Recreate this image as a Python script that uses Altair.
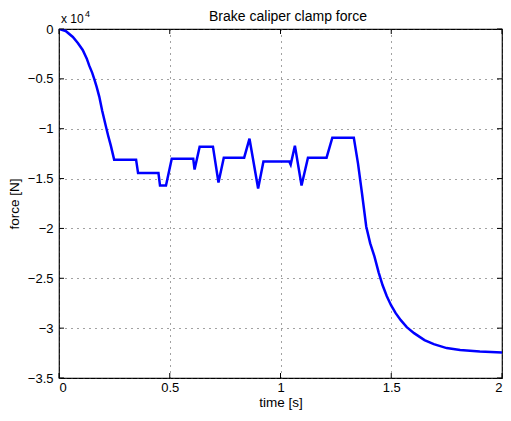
import altair as alt
import pandas as pd

# time [s]
t_vals = [0.0, 0.03, 0.0625, 0.085, 0.107, 0.125, 0.137, 0.15, 0.159, 0.17, 0.182, 0.195,
          0.211, 0.222, 0.234, 0.249,
          0.348, 0.357, 0.449, 0.456, 0.483, 0.509, 0.606, 0.612, 0.635, 0.695, 0.72,
          0.744, 0.836, 0.860, 0.899, 0.923, 1.040, 1.046, 1.065, 1.095, 1.124, 1.208,
          1.234, 1.331,
          1.35, 1.368, 1.387, 1.405, 1.424, 1.443, 1.461, 1.48, 1.499, 1.52, 1.543, 1.57,
          1.603, 1.65, 1.692, 1.75, 1.811, 1.9, 2.0]
# force [N]
f_vals = [0, -200, -800, -1400, -2100, -2950, -3700, -4400, -5000, -5800, -6800, -8200,
          -9700, -10700, -11700, -13100,
          -13100, -14450, -14450, -15700, -15700, -13000, -13000, -14100, -11800, -11800, -15400,
          -12900, -12900, -11000, -16000, -13300, -13300, -13600, -11700, -15700, -12900, -12900,
          -10900, -10900,
          -13500, -16500, -19800, -21500, -22800, -24400, -25700, -26800, -27700, -28500, -29200, -29900,
          -30500, -31200, -31600, -32000, -32200, -32350, -32450]

x_ticks = [0, 0.5, 1, 1.5, 2]
y_ticks = [0, -5000, -10000, -15000, -20000, -25000, -30000, -35000]

title_text = "Brake caliper clamp force"
x_title = "time [s]"
y_title = "force [N]"
exp_base = "x 10"
exp_pow = "4"

W, H = 443, 349
FONT = "Liberation Sans"

df = pd.DataFrame({"t": t_vals, "f": f_vals})
xt = pd.DataFrame({"t": x_ticks})
yt = pd.DataFrame({"f": y_ticks})

xs = alt.Scale(domain=[0, 2], nice=False, zero=False)
ys = alt.Scale(domain=[-35000, 0], nice=False, zero=False)

line = alt.Chart(df).mark_line(color="#0000ff", strokeWidth=2.5, clip=True).encode(
    x=alt.X("t:Q", scale=xs, title=x_title,
            axis=alt.Axis(values=x_ticks, labelExpr="format(datum.value, '~g')",
                          grid=True, ticks=False, domain=False,
                          labelPadding=3, titlePadding=1,
                          gridDash=[1, 5], gridColor="#444444", gridWidth=1)),
    y=alt.Y("f:Q", scale=ys, title=y_title,
            axis=alt.Axis(values=y_ticks, labelExpr="format(datum.value/10000, '~g')",
                          grid=True, ticks=False, domain=False,
                          labelPadding=6, titlePadding=6,
                          gridDash=[1, 5], gridColor="#444444", gridWidth=1)),
)

tick_len = 5
bt = alt.Chart(xt).mark_rule(color="black", strokeWidth=1).encode(
    x=alt.X("t:Q", scale=xs), y=alt.value(H), y2=alt.value(H - tick_len))
tt = alt.Chart(xt).mark_rule(color="black", strokeWidth=1).encode(
    x=alt.X("t:Q", scale=xs), y=alt.value(0), y2=alt.value(tick_len))
lt = alt.Chart(yt).mark_rule(color="black", strokeWidth=1).encode(
    y=alt.Y("f:Q", scale=ys), x=alt.value(0), x2=alt.value(tick_len))
rt = alt.Chart(yt).mark_rule(color="black", strokeWidth=1).encode(
    y=alt.Y("f:Q", scale=ys), x=alt.value(W), x2=alt.value(W - tick_len))

exp1 = alt.Chart(pd.DataFrame({"s": [exp_base]})).mark_text(
    font=FONT, fontSize=12, align="left", baseline="alphabetic", color="black").encode(
    text="s:N", x=alt.value(2), y=alt.value(-6))
exp2 = alt.Chart(pd.DataFrame({"s": [exp_pow]})).mark_text(
    font=FONT, fontSize=9, align="left", baseline="alphabetic", color="black").encode(
    text="s:N", x=alt.value(26), y=alt.value(-12))
ttl = alt.Chart(pd.DataFrame({"s": [title_text]})).mark_text(
    font=FONT, fontSize=14, align="center", baseline="alphabetic", color="black").encode(
    text="s:N", x=alt.value(229), y=alt.value(-8))

chart = alt.layer(line, bt, tt, lt, rt, exp1, exp2, ttl).properties(
    width=W, height=H,
    autosize=alt.AutoSizeParams(type="none"),
    padding={"left": 51, "top": 21, "right": 1, "bottom": 35},
    background="white",
).configure_view(stroke="black", strokeWidth=1.2).configure_axis(
    labelFont=FONT, titleFont=FONT, labelFontSize=13, titleFontSize=13.5,
    labelColor="black", titleColor="black", titleFontWeight="normal",
)

chart.save("out.html", embed_options={"renderer": "svg", "actions": False})
